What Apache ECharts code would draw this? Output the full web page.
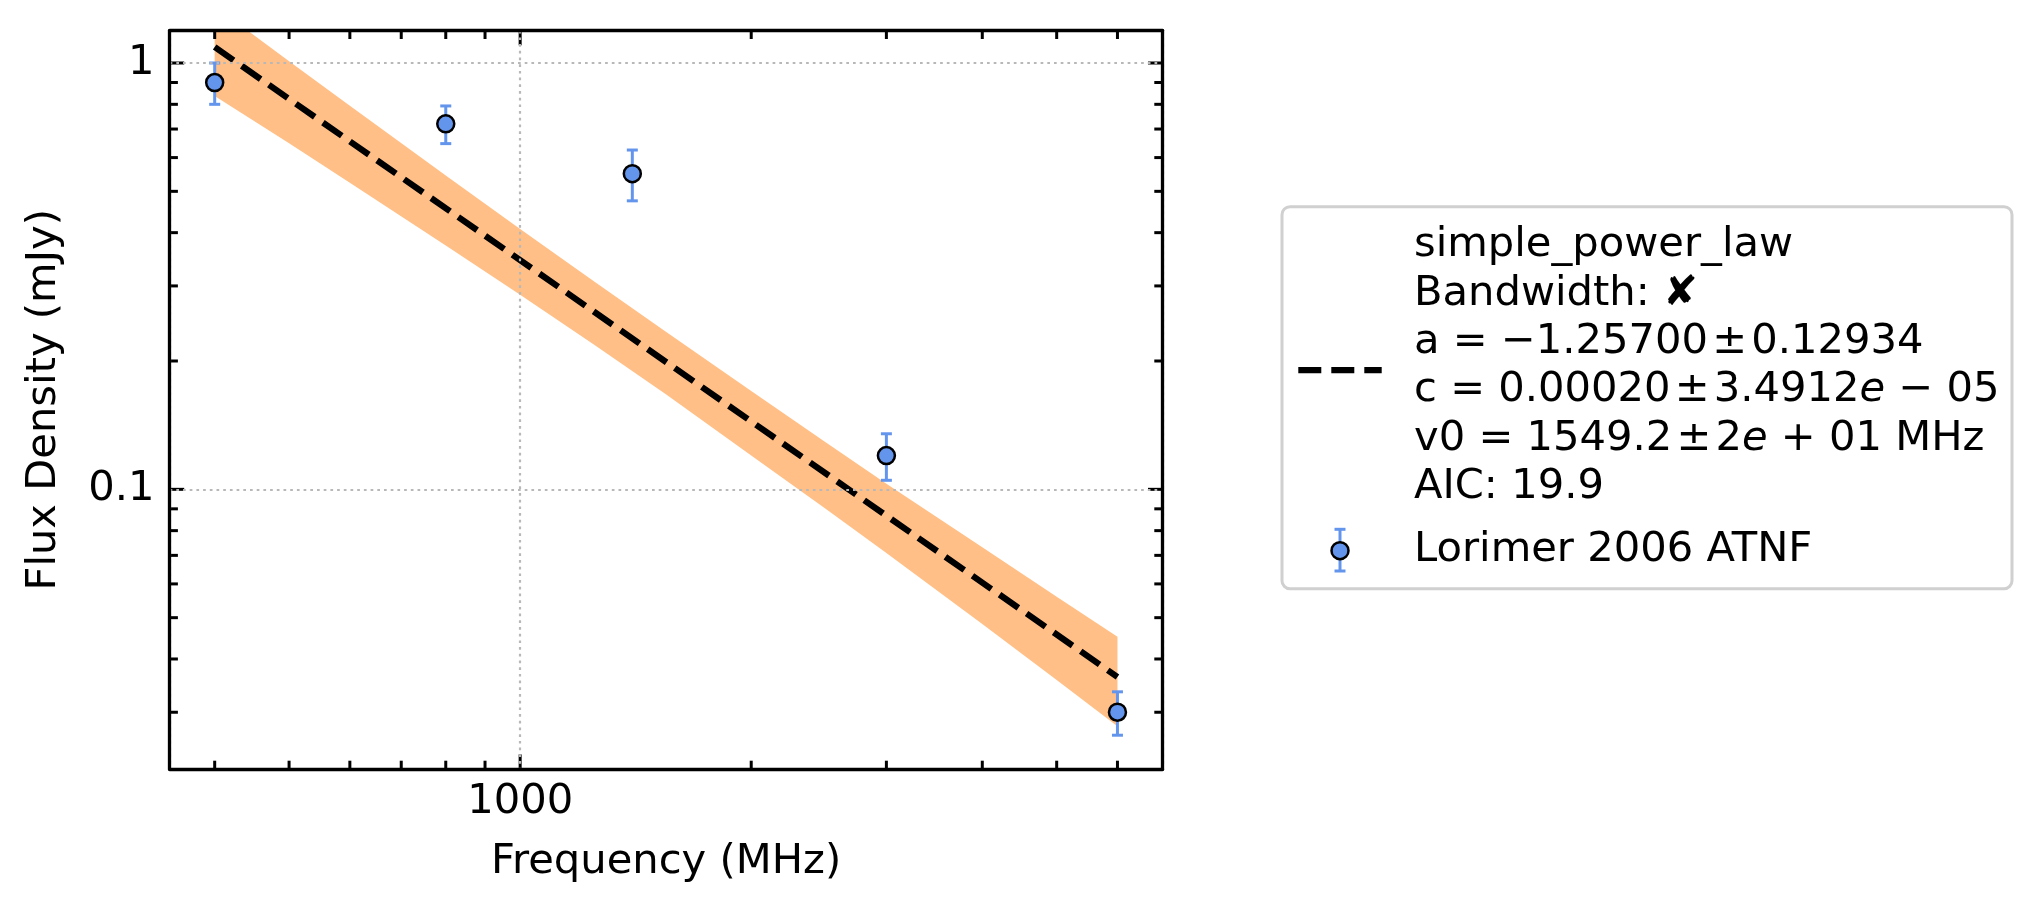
<!DOCTYPE html>
<html>
<head>
<meta charset="utf-8">
<script src="https://cdn.jsdelivr.net/npm/echarts@6/dist/echarts.min.js"></script>
<style>
  html, body { margin: 0; padding: 0; background: #fff; }
  #main { width: 2042px; height: 914px; }
</style>
</head>
<body>
<div id="main"></div>
<script>
// Lorimer 2006 ATNF measurements (MHz, mJy)
var freqs = [400, 800, 1400, 3000, 6000];
var flux = [0.90, 0.72, 0.55, 0.12, 0.030];
var fluxErr = [0.10, 0.073, 0.075, 0.015, 0.0035];

// simple_power_law fit, end points of the dashed line
var fitFreq = [400, 6000];
var fitFlux = [1.09, 0.0363];

// uncertainty band around the fit
var bandFreq = [400, 500, 600, 800, 1000, 1250, 1550, 2000, 2500, 3000, 4000, 5000, 6000];
var bandUpper = [1.36, 1.01, 0.794, 0.545, 0.408, 0.307, 0.234, 0.170, 0.129, 0.103, 0.0731, 0.0560, 0.0451];
var bandLower = [0.837, 0.648, 0.524, 0.373, 0.286, 0.218, 0.167, 0.120, 0.0901, 0.0709, 0.0483, 0.0357, 0.0278];

// ticks and labels
var xMajor = [1000];
var xLabels = ["1000"];
var xMinor = [400, 500, 600, 700, 800, 900, 2000, 3000, 4000, 5000, 6000];
var yMajor = [0.1, 1];
var yLabels = ["0.1", "1"];
var yMinor = [0.03, 0.04, 0.05, 0.06, 0.07, 0.08, 0.09, 0.2, 0.3, 0.4, 0.5, 0.6, 0.7, 0.8, 0.9];

var X_MIN = 349.4, X_MAX = 6870;
var Y_MIN = 0.02208, Y_MAX = 1.1906;

var FONT = "'DejaVu Sans', sans-serif";
var FS = 41.67;
var BLUE = "#6495ED";

function labelFor(majors, labels) {
  return function (v) {
    for (var i = 0; i < majors.length; i++) {
      if (Math.abs(Math.log10(v) - Math.log10(majors[i])) < 1e-6) return labels[i];
    }
    return "";
  };
}

// clip a pixel polygon to the plot rect
function clipPoly(pts, x0, y0, x1, y1) {
  var planes = [[0, x0, 1], [0, x1, -1], [1, y0, 1], [1, y1, -1]];
  planes.forEach(function (pl) {
    var k = pl[0], b = pl[1], s = pl[2], out = [];
    for (var i = 0; i < pts.length; i++) {
      var p = pts[i], q = pts[(i + 1) % pts.length];
      var pin = (p[k] - b) * s >= 0, qin = (q[k] - b) * s >= 0;
      if (pin) out.push(p);
      if (pin !== qin) {
        var t = (b - p[k]) / (q[k] - p[k]);
        out.push([p[0] + t * (q[0] - p[0]), p[1] + t * (q[1] - p[1])]);
      }
    }
    pts = out;
  });
  return pts;
}

function legendText(txt, cy) {
  return {
    type: "text", z: 102, x: 1414, y: cy,
    style: {
      text: txt, fill: "#000", fontSize: FS, fontFamily: FONT,
      align: "left", verticalAlign: "middle",
      rich: { it: { fontStyle: "italic", fontSize: FS, fontFamily: FONT, fill: "#000" } }
    }
  };
}

var bandData = bandFreq.map(function (f, i) { return [f, bandUpper[i], bandLower[i]]; });
var errData = freqs.map(function (f, i) { return [f, flux[i], flux[i] - fluxErr[i], flux[i] + fluxErr[i]]; });
var pointData = freqs.map(function (f, i) { return [f, flux[i]]; });
var fitData = fitFreq.map(function (f, i) { return [f, fitFlux[i]]; });

var xTickData = xMajor.map(function (v) { return [v, Y_MIN, 1]; })
  .concat(xMinor.map(function (v) { return [v, Y_MIN, 0]; }));
var yTickData = yMajor.map(function (v) { return [X_MIN, v, 1]; })
  .concat(yMinor.map(function (v) { return [X_MIN, v, 0]; }));

var tickStyle = { stroke: "#000", lineWidth: 3 };
var PM = "\u200a\u00b1\u200a";

var chart = echarts.init(document.getElementById("main"));
chart.setOption({
  animation: false,
  backgroundColor: "#fff",
  grid: { left: 169.6, top: 30.7, width: 993, height: 738.3, outerBoundsMode: "none" },
  xAxis: [{
    type: "log", logBase: 10, min: X_MIN, max: X_MAX, position: "bottom", z: 10,
    axisLine: { show: true, lineStyle: { color: "#000", width: 3.3 } },
    axisTick: { show: false },
    axisLabel: {
      formatter: labelFor(xMajor, xLabels), margin: 12.5, color: "#000",
      fontSize: FS, fontFamily: FONT, showMinLabel: false, showMaxLabel: false
    },
    splitLine: { show: true, lineStyle: { color: "#b8b8b8", width: 2.2, type: [2.7, 4] } },
    name: "Frequency (MHz)", nameLocation: "middle", nameGap: 72,
    nameTextStyle: { color: "#000", fontSize: FS, fontFamily: FONT }
  }, {
    type: "log", logBase: 10, min: X_MIN, max: X_MAX, position: "top", z: 10,
    axisLine: { show: true, lineStyle: { color: "#000", width: 3.3 } },
    axisTick: { show: false }, axisLabel: { show: false }, splitLine: { show: false }
  }],
  yAxis: [{
    type: "log", logBase: 10, min: Y_MIN, max: Y_MAX, position: "left", z: 10,
    axisLine: { show: true, lineStyle: { color: "#000", width: 3.3 } },
    axisTick: { show: false },
    axisLabel: {
      formatter: labelFor(yMajor, yLabels), margin: 15, color: "#000",
      fontSize: FS, fontFamily: FONT, showMinLabel: false, showMaxLabel: false
    },
    splitLine: { show: true, lineStyle: { color: "#b8b8b8", width: 2.2, type: [2.7, 4] } },
    name: "Flux Density (mJy)", nameLocation: "middle", nameGap: 104,
    nameTextStyle: { color: "#000", fontSize: FS, fontFamily: FONT }
  }, {
    type: "log", logBase: 10, min: Y_MIN, max: Y_MAX, position: "right", z: 10,
    axisLine: { show: true, lineStyle: { color: "#000", width: 3.3 } },
    axisTick: { show: false }, axisLabel: { show: false }, splitLine: { show: false }
  }],
  series: [
    {
      // uncertainty band
      type: "custom", z: 1, silent: true,
      data: bandData,
      renderItem: function (params, api) {
        if (params.dataIndex !== 0) return;
        var cs = params.coordSys;
        var pts = [];
        bandFreq.forEach(function (f, i) { pts.push(api.coord([f, bandUpper[i]])); });
        for (var i = bandFreq.length - 1; i >= 0; i--) pts.push(api.coord([bandFreq[i], bandLower[i]]));
        pts = clipPoly(pts, cs.x, cs.y, cs.x + cs.width, cs.y + cs.height);
        return { type: "polygon", shape: { points: pts }, style: { fill: "rgba(255,127,14,0.5)" } };
      }
    },
    {
      type: "line", z: 3, silent: true, data: fitData, showSymbol: false, symbol: "none",
      lineStyle: { color: "#000", width: 6.25, type: [23, 10], cap: "butt" }
    },
    {
      // error bars
      type: "custom", z: 4, silent: true, data: errData,
      renderItem: function (params, api) {
        var lo = api.coord([api.value(0), api.value(2)]);
        var hi = api.coord([api.value(0), api.value(3)]);
        var st = { stroke: BLUE, lineWidth: 3 };
        return {
          type: "group", children: [
            { type: "line", shape: { x1: lo[0], y1: lo[1], x2: hi[0], y2: hi[1] }, style: st },
            { type: "line", shape: { x1: lo[0] - 5.5, y1: lo[1], x2: lo[0] + 5.5, y2: lo[1] }, style: st },
            { type: "line", shape: { x1: hi[0] - 5.5, y1: hi[1], x2: hi[0] + 5.5, y2: hi[1] }, style: st }
          ]
        };
      }
    },
    {
      type: "scatter", z: 5, silent: true, data: pointData, symbol: "circle", symbolSize: 17,
      itemStyle: { color: BLUE, borderColor: "#000", borderWidth: 2.5, opacity: 1 }
    },
    {
      // x ticks, bottom and top, pointing in
      type: "custom", z: 6, silent: true, data: xTickData,
      renderItem: function (params, api) {
        var cs = params.coordSys;
        var px = api.coord([api.value(0), api.value(1)])[0];
        var len = api.value(2) ? 14.6 : 8.3;
        var yb = cs.y + cs.height, yt = cs.y;
        return {
          type: "group", children: [
            { type: "line", shape: { x1: px, y1: yb, x2: px, y2: yb - len }, style: tickStyle },
            { type: "line", shape: { x1: px, y1: yt, x2: px, y2: yt + len }, style: tickStyle }
          ]
        };
      }
    },
    {
      // y ticks, left and right, pointing in
      type: "custom", z: 6, silent: true, data: yTickData,
      renderItem: function (params, api) {
        var cs = params.coordSys;
        var py = api.coord([api.value(0), api.value(1)])[1];
        var len = api.value(2) ? 14.6 : 8.3;
        var xl = cs.x, xr = cs.x + cs.width;
        return {
          type: "group", children: [
            { type: "line", shape: { x1: xl, y1: py, x2: xl + len, y2: py }, style: tickStyle },
            { type: "line", shape: { x1: xr, y1: py, x2: xr - len, y2: py }, style: tickStyle }
          ]
        };
      }
    }
  ],
  graphic: [
    {
      type: "rect", z: 100,
      shape: { x: 1282, y: 206.7, width: 730, height: 382, r: 8 },
      style: { fill: "rgba(255,255,255,0.8)", stroke: "#d0d0d0", lineWidth: 3 }
    },
    {
      type: "line", z: 101,
      shape: { x1: 1298.3, y1: 370, x2: 1381.7, y2: 370 },
      style: { stroke: "#000", lineWidth: 6.25, lineDash: [23, 10] }
    },
    { type: "line", z: 101, shape: { x1: 1340, y1: 529.3, x2: 1340, y2: 571 }, style: { stroke: BLUE, lineWidth: 3 } },
    { type: "line", z: 101, shape: { x1: 1334.5, y1: 529.3, x2: 1345.5, y2: 529.3 }, style: { stroke: BLUE, lineWidth: 3 } },
    { type: "line", z: 101, shape: { x1: 1334.5, y1: 571, x2: 1345.5, y2: 571 }, style: { stroke: BLUE, lineWidth: 3 } },
    { type: "circle", z: 102, shape: { cx: 1340, cy: 550.7, r: 8.5 }, style: { fill: BLUE, stroke: "#000", lineWidth: 2.5 } },
    legendText("simple_power_law", 245.6),
    legendText("Bandwidth: \u2718", 293.7),
    legendText("a = \u22121.25700" + PM + "0.12934", 342.3),
    legendText("c = 0.00020" + PM + "3.4912{it|e} \u2212 05", 390.6),
    legendText("v0 = 1549.2" + PM + "2{it|e} + 01 MHz", 438.9),
    legendText("AIC: 19.9", 487.3),
    legendText("Lorimer 2006 ATNF", 550.6)
  ]
});
</script>
</body>
</html>
